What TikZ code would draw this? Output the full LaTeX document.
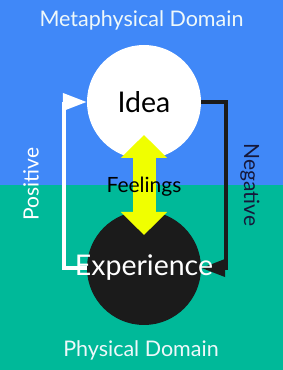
\documentclass[tikz,border=0pt]{standalone}
\usepackage{fontspec}
\setmainfont{Lato}
\usepackage{tikz}
\usetikzlibrary{arrows.meta,positioning,calc}
\usepackage{xcolor}
\definecolor{metablue}{HTML}{4088F8}
\definecolor{physteal}{HTML}{00B999}
\definecolor{ink}{HTML}{1B1B1B}
\definecolor{lemon}{HTML}{F0FF00}
\definecolor{dnavy}{HTML}{16183A}
\definecolor{paletxt}{HTML}{EEF8FA}
\tikzset{
  ball/.style     = {circle, inner sep=0pt, minimum size=114pt},
  bigword/.style  = {font=\fontsize{28.5}{30}\selectfont},
  realmlab/.style = {text=paletxt, font=\fontsize{21.5}{23}\selectfont},
  sidelab/.style  = {font=\fontsize{21}{23}\selectfont},
  loopline/.style = {line width=4pt, -{Triangle[length=24pt,width=17pt]}},
  feel/.style     = {lemon, line width=23pt,
                     {Triangle[length=23pt,width=45pt]}-{Triangle[length=23pt,width=45pt]}},
}

\begin{document}
\begin{tikzpicture}[x=1pt,y=1pt]
\useasboundingbox (0,0) rectangle (283,370);
% ---- background: two domains ----
\fill[metablue] (0,185) rectangle (283,370);
\fill[physteal] (0,0) rectangle (283,185);
\node[realmlab] (meta) at (141.5,350) {Metaphysical Domain};
\node[realmlab] (phys) at (141,20) {Physical Domain};
% ---- idea and experience ----
\node[ball, fill=white] (idea) at (144,268) {};
\node[ball, fill=ink] (exp) at (144,102) {};
% ---- feedback loops ----
\draw[loopline, white] (exp.west) -| ([xshift=-23pt]idea.west) -- (idea.west);
\draw[loopline, ink] (idea.east) -- ([xshift=25pt]idea.east) |- (exp.east);
\node[sidelab, white, rotate=90] (pos) at (31,186) {Positive};
\node[sidelab, dnavy, rotate=-90] (neg) at (250,185) {Negative};
% ---- feelings, both ways ----
\draw[feel] ([yshift=-33pt]idea.center) -- ([yshift=33pt]exp.center);
\node[sidelab] (feelab) at (144,183) {Feelings};
\node[bigword] (idealab) at (idea) {Idea};
\node[bigword, white] (explab) at (exp) {Experience};
\end{tikzpicture}
\end{document}
